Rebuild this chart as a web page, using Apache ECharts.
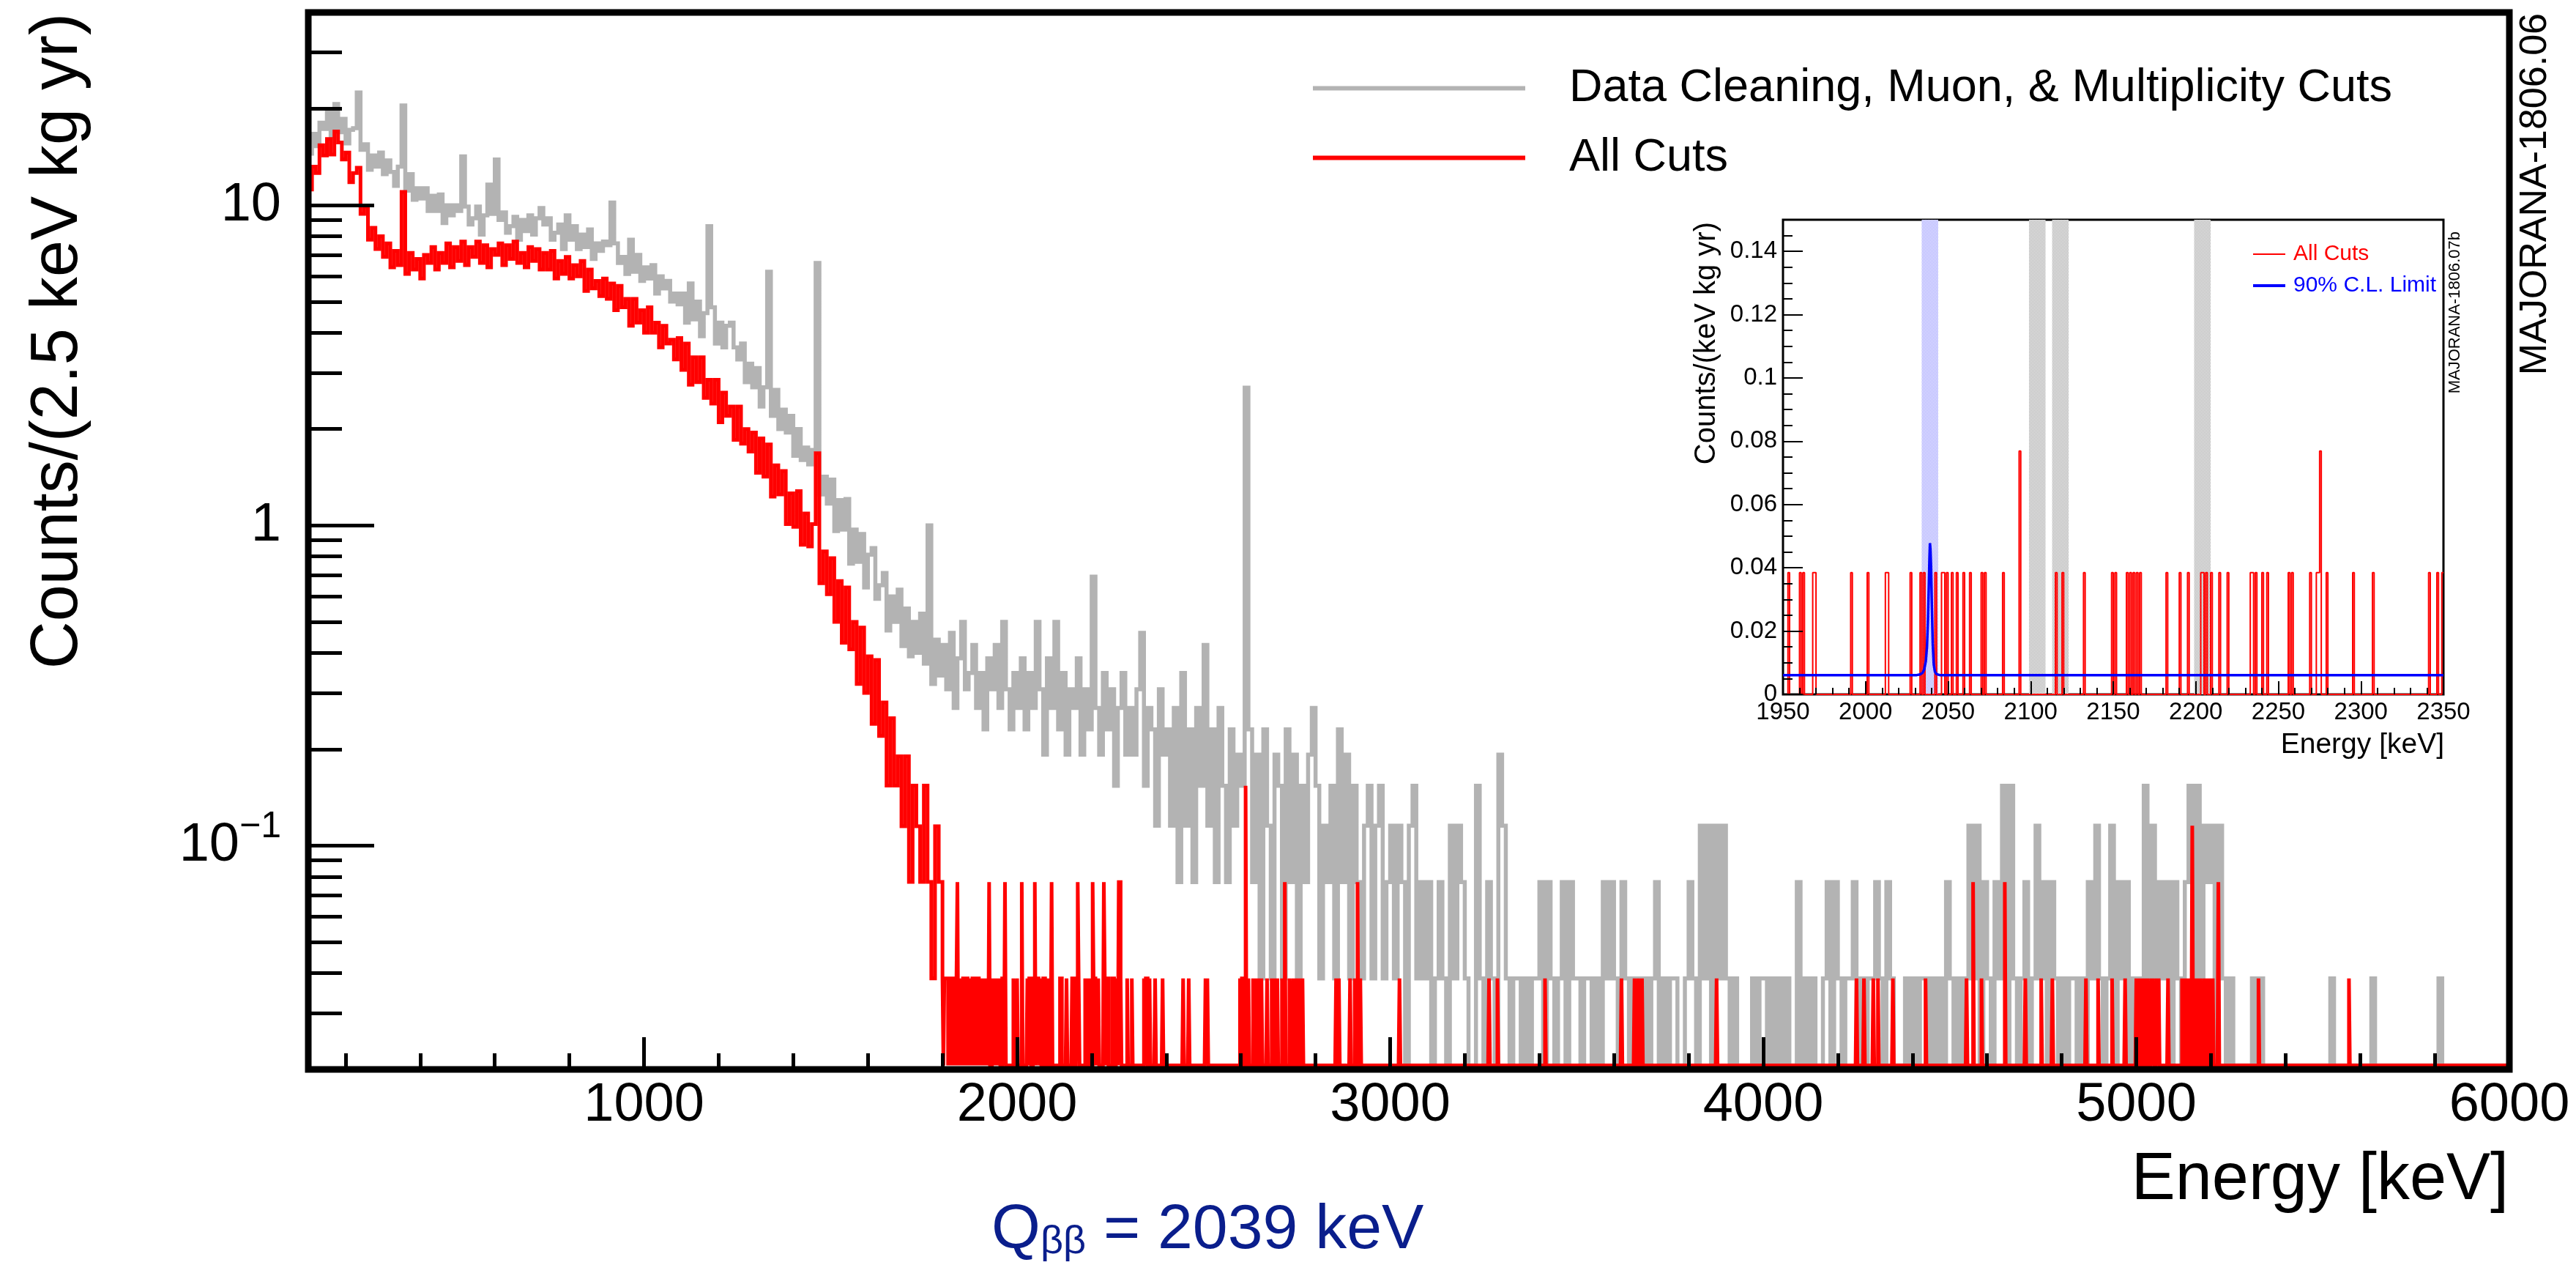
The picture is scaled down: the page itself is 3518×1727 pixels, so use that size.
<!DOCTYPE html>
<html>
<head>
<meta charset="utf-8">
<script src="https://cdn.jsdelivr.net/npm/echarts@6/dist/echarts.min.js"></script>
<style>
html,body{margin:0;padding:0;background:#fff;}
#chart{width:3518px;height:1727px;}
</style>
</head>
<body>
<div id="chart"></div>
<script>
// ---------------- DATA ----------------
const EXPOSURE = 26;            // kg yr : 1 count per bin -> 1/26
const X_MIN = 100, X_MAX = 6000;
const Y_MIN = 0.02, Y_MAX = 40;
const BIN = 10;                 // keV per drawn step (coarse arrays)
const FINE_BIN = 2.5;           // keV, native bin of the spectrum (event lists)
const LO_START = 100;           // first step of the rate arrays (counts/(2.5 keV kg yr))
const HI_START = 1800;          // first step of the count arrays / event lists

const GRAY_NAME = 'Data Cleaning, Muon, & Multiplicity Cuts';
const RED_NAME = 'All Cuts';
const LIMIT_NAME = '90% C.L. Limit';

// 100 - 1790 keV, counts/(2.5 keV kg yr), one line = 100 keV
const grayLow = [
  14.5, 16.7, 15.3, 18.1, 17.3, 19.8, 16.4, 20.7, 16.9, 18.6,
  15.6, 17.2, 17.4, 22.5, 14.9, 15.5, 12.9, 14.3, 13.2, 14.6,
  12.5, 13.8, 12.7, 11.5, 13.2, 20.5, 11.1, 12.5, 10.4, 11.3,
  10.5, 11.3, 9.6, 10.7, 9.6, 10.8, 8.8, 10.0, 9.3, 10.0,
  9.6, 14.2, 9.9, 8.7, 9.1, 9.9, 8.1, 9.3, 11.6, 9.4,
  13.9, 9.0, 9.5, 8.2, 8.6, 9.2, 7.8, 9.0, 8.3, 9.3,
  8.1, 9.1, 9.8, 8.7, 9.1, 7.8, 8.2, 8.7, 7.3, 9.3,
  7.8, 8.6, 7.3, 8.1, 7.4, 8.4, 6.8, 7.6, 7.2, 7.7,
  7.5, 10.2, 7.6, 6.6, 6.9, 6.1, 7.8, 6.2, 7.0, 5.8,
  6.4, 5.9, 6.5, 5.3, 6.0, 5.5, 5.8, 5.0, 5.3, 4.9,
  5.3, 4.3, 5.7, 4.4, 5.0, 3.9, 4.6, 8.6, 4.8, 3.7,
  4.3, 3.6, 4.2, 4.3, 3.6, 3.3, 3.7, 2.8, 3.2, 2.7,
  3.1, 2.35, 2.7, 6.2, 2.2, 2.65, 2.0, 2.3, 1.95, 2.2,
  1.65, 2.0, 1.6, 1.75, 1.55, 1.72, 6.6, 1.25, 1.42, 1.17,
  1.39, 0.96, 1.2, 0.97, 1.21, 0.76, 0.97, 0.77, 0.94, 0.64,
  0.81, 0.85, 0.59, 0.65, 0.71, 0.47, 0.6, 0.5, 0.63, 0.42,
  0.55, 0.39, 0.5, 0.4, 0.53, 0.37, 1.0, 0.32, 0.44, 0.34
];
const redLow = [
  11.2, 13.2, 12.6, 15.4, 14.3, 16.1, 14.4, 17.0, 15.7, 13.9,
  14.6, 11.8, 12.6, 13.1, 9.4, 9.9, 7.8, 8.5, 7.3, 8.0,
  6.9, 7.6, 6.4, 7.2, 6.5, 11.0, 6.1, 7.1, 6.3, 6.8,
  5.9, 7.0, 6.6, 7.4, 6.3, 7.1, 6.6, 7.6, 6.4, 7.4,
  6.7, 7.7, 6.5, 7.4, 6.9, 7.7, 6.6, 7.5, 6.4, 7.3,
  7.0, 7.6, 6.5, 7.5, 6.8, 7.7, 6.6, 7.1, 6.4, 7.4,
  6.7, 7.3, 6.3, 7.1, 6.3, 7.2, 5.9, 6.7, 6.1, 6.9,
  5.9, 6.5, 6.0, 6.7, 5.4, 6.3, 5.5, 5.8, 5.2, 5.9,
  5.1, 5.7, 4.7, 5.6, 4.8, 5.1, 4.2, 5.1, 4.3, 4.7,
  4.0, 4.8, 4.0, 4.3, 3.6, 4.2, 3.7, 3.8, 3.3, 3.85,
  3.06, 3.7, 2.75, 3.35, 2.8, 3.35, 2.5, 2.85, 2.4, 2.85,
  2.1, 2.6, 2.2, 2.35, 1.85, 2.35, 1.8, 2.0, 1.7, 1.95,
  1.46, 1.87, 1.42, 1.79, 1.23, 1.54, 1.25, 1.48, 1.01, 1.26,
  0.99, 1.28, 0.87, 1.09, 0.86, 1.01, 1.68, 0.66, 0.83, 0.61,
  0.79, 0.5, 0.67, 0.43, 0.64, 0.41, 0.5, 0.32, 0.48, 0.3,
  0.39, 0.24, 0.38, 0.22, 0.28, 0.154, 0.25, 0.154, 0.19, 0.115,
  0.19, 0.077, 0.154, 0.115, 0.077, 0.154, 0.077, 0.0385, 0.115, 0.077
];

// "Data Cleaning, Muon, & Multiplicity Cuts": 1800 - 5990 keV, counts per 2.5 keV bin (one line = 100 keV)
const grayHiCounts = [
  11, 8, 12, 7, 10, 13, 8, 9, 11, 7,
  9, 6, 10, 8, 11, 7, 13, 8, 6, 9,
  7, 10, 6, 9, 7, 13, 8, 5, 10, 7,
  13, 6, 9, 5, 8, 7, 10, 5, 8, 6,
  18, 7, 5, 9, 6, 8, 4, 7, 9, 5,
  7, 5, 8, 12, 4, 7, 6, 3, 8, 5,
  6, 3, 7, 2, 9, 3, 6, 2, 7, 4,
  11, 3, 6, 2, 7, 4, 2, 6, 3, 5,
  4, 70, 6, 2, 5, 1, 6, 3, 1, 5,
  4, 1, 6, 2, 5, 1, 4, 2, 5, 7,
  4, 1, 3, 2, 4, 1, 6, 2, 5, 1,
  4, 2, 1, 3, 4, 1, 3, 4, 1, 2,
  3, 1, 3, 2, 0, 3, 4, 1, 2, 1,
  2, 0, 1, 2, 1, 0, 3, 1, 3, 2,
  1, 0, 0, 4, 1, 0, 2, 1, 0, 5,
  3, 1, 0, 1, 1, 0, 1, 0, 1, 1,
  2, 0, 2, 1, 0, 1, 2, 0, 2, 1,
  1, 0, 1, 1, 0, 1, 0, 2, 1, 2,
  1, 0, 2, 1, 0, 1, 1, 0, 1, 0,
  1, 2, 0, 1, 0, 1, 1, 0, 0, 1,
  2, 1, 0, 3, 1, 3, 0, 3, 1, 3,
  1, 0, 1, 0, 0, 0, 0, 1, 0, 1,
  1, 0, 1, 0, 1, 0, 1, 0, 0, 2,
  0, 1, 0, 1, 0, 0, 1, 2, 0, 2,
  1, 0, 1, 1, 2, 0, 1, 0, 1, 1,
  2, 1, 0, 2, 1, 0, 0, 0, 1, 0,
  1, 0, 1, 1, 0, 1, 0, 1, 0, 2,
  1, 0, 1, 0, 1, 3, 1, 3, 0, 2,
  1, 0, 2, 1, 4, 0, 4, 1, 0, 1,
  2, 0, 1, 3, 1, 2, 0, 2, 1, 0,
  1, 0, 1, 1, 0, 1, 0, 2, 1, 3,
  1, 0, 1, 3, 0, 2, 1, 2, 0, 1,
  1, 0, 4, 1, 3, 0, 2, 1, 2, 0,
  2, 1, 0, 2, 4, 1, 4, 0, 3, 2,
  3, 0, 3, 1, 0, 1, 0, 0, 0, 0,
  0, 1, 0, 1, 0, 0, 0, 0, 0, 0,
  0, 0, 0, 0, 0, 0, 0, 0, 0, 0,
  0, 0, 1, 0, 0, 0, 0, 0, 0, 0,
  0, 0, 0, 1, 0, 0, 0, 0, 0, 0,
  0, 0, 0, 0, 0, 0, 0, 0, 0, 0,
  0, 1, 0, 0, 0, 0, 0, 0, 0, 0,
  0, 0, 0, 0, 0, 0, 0, 0, 0, 0
];

// inset: events of "All Cuts" in 1 keV bins [bin start keV, counts] (1950 - 2350 keV)
const insetEvents = [
  [1953,1],[1960,1],[1962,1],[1968,1],[1969,1],[1991,1],[2001,1],[2012,1],[2013,1],[2027,1],
  [2033,1],[2035,1],[2042,1],[2046,1],[2047,1],[2049,1],[2052,1],[2055,1],[2059,1],[2063,1],
  [2070,1],[2072,1],[2083,1],[2093,2],[2115,1],[2119,1],[2132,1],[2149,1],[2151,1],[2158,1],
  [2160,1],[2162,1],[2164,1],[2166,1],[2182,1],[2190,1],[2195,1],[2203,1],[2204,1],[2206,1],
  [2209,1],[2214,1],[2219,1],[2233,1],[2234,1],[2236,1],[2240,1],[2243,1],[2256,1],[2258,1],
  [2269,1],[2273,1],[2274,1],[2275,2],[2279,1],[2295,1],[2307,1],[2341,1],[2346,1],[2349,1]
];
// other "All Cuts" events above 1800 keV (energies in keV, one count each)
const redEventsOutsideInset = [
  1801, 1805, 1808, 1812, 1813, 1818, 1822, 1826, 1829, 1834, 1838, 1841, 1842, 1846, 1851,
  1855, 1858, 1863, 1867, 1871, 1876, 1881, 1884, 1889, 1893, 1897, 1902, 1906, 1911, 1916,
  1921, 1926, 1927, 1933, 1938, 1944, 1948,
  2356, 2371, 2392, 2447, 2462, 2505, 2511,
  2598, 2603, 2607, 2614.5, 2614.5, 2614.5, 2614.5, 2621, 2633, 2641, 2648, 2655, 2672, 2683,
  2690, 2699, 2712, 2718, 2719, 2731, 2742, 2748, 2757, 2766,
  2856, 2864, 2893, 2905, 2914, 2914.5, 2921, 3026, 3266, 3288, 3415, 3621, 3656, 3665, 3675, 3876,
  4251, 4270, 4295, 4309, 4349, 4437, 4547, 4563, 4563.5, 4585, 4648, 4648.5, 4704, 4745, 4776,
  4866, 4898, 4937, 4970,
  5001, 5008, 5016, 5023, 5031, 5040, 5047, 5055, 5062, 5085, 5124, 5131, 5139, 5146,
  5151, 5151.5, 5152, 5158, 5166, 5174, 5183, 5191, 5199, 5207, 5221, 5221.5, 5328, 5570
];

// axis ticks (main)
const xMajorTicks = [1000, 2000, 3000, 4000, 5000, 6000];
const xMinorTicks = [200, 400, 600, 800, 1200, 1400, 1600, 1800, 2200, 2400, 2600, 2800,
  3200, 3400, 3600, 3800, 4200, 4400, 4600, 4800, 5200, 5400, 5600, 5800];
const yMajorTicks = [0.1, 1, 10];
const yMinorTicks = [0.03, 0.04, 0.05, 0.06, 0.07, 0.08, 0.09,
  0.2, 0.3, 0.4, 0.5, 0.6, 0.7, 0.8, 0.9, 2, 3, 4, 5, 6, 7, 8, 9, 20, 30];

const INSET_X_MIN = 1950, INSET_X_MAX = 2350;
const insetYMajor = [0, 0.02, 0.04, 0.06, 0.08, 0.1, 0.12, 0.14];
const insetYMinor = [0.005, 0.01, 0.015, 0.025, 0.03, 0.035, 0.045, 0.05, 0.055, 0.065, 0.07, 0.075,
  0.085, 0.09, 0.095, 0.105, 0.11, 0.115, 0.125, 0.13, 0.135, 0.145];
// 90% C.L. limit curve
const limitE = [1950, 2031, 2033, 2034.5, 2035.5, 2036.5, 2037.2, 2037.8, 2038.3, 2038.7, 2039.0,
  2039.3, 2039.7, 2040.2, 2040.7, 2041.3, 2042.0, 2043, 2045, 2350];
const limitV = [0.0061, 0.0061, 0.0063, 0.0068, 0.0078, 0.0105, 0.015, 0.0235, 0.034, 0.043, 0.0478,
  0.046, 0.040, 0.027, 0.016, 0.0095, 0.0072, 0.0064, 0.0061, 0.0061];
const roiBand = [2034, 2044];
const excludedBands = [[2099, 2109], [2113, 2123], [2199, 2209]];

// ---------------- STYLE ----------------
const FONT = '"Liberation Sans", Arial, Helvetica, sans-serif';
const GRAY = '#b3b3b3', RED = '#ff0000', BLUE = '#0000ff', QBB_COLOR = '#0a1e8c';

// ---------------- BUILD ----------------
const FLOOR = Y_MIN * 1.03; // empty bins are drawn on the lower frame, like ROOT
const rate = c => Math.max(c / EXPOSURE, FLOOR);

// gray: coarse rate array + coarse count array
const grayData = [];
grayLow.forEach((v, i) => grayData.push([LO_START + i * BIN, Math.max(v, FLOOR)]));
grayHiCounts.forEach((c, i) => grayData.push([HI_START + i * BIN, rate(c)]));
grayData.push([X_MAX, grayData[grayData.length - 1][1]]);

// red: coarse rate array below 1800 keV, then events histogrammed in 2.5 keV bins
const nFine = Math.round((X_MAX - HI_START) / FINE_BIN);
const redFine = new Array(nFine).fill(0);
const addEvent = (e, c) => {
  const k = Math.floor((e - HI_START) / FINE_BIN);
  if (k >= 0 && k < nFine) redFine[k] += c;
};
redEventsOutsideInset.forEach(e => addEvent(e, 1));
insetEvents.forEach(([e, c]) => addEvent(e + 0.5, c));
const redData = [];
redLow.forEach((v, i) => redData.push([LO_START + i * BIN, Math.max(v, FLOOR)]));
redFine.forEach((c, i) => redData.push([HI_START + i * FINE_BIN, rate(c)]));
redData.push([X_MAX, redData[redData.length - 1][1]]);

// inset histogram (1 keV bins)
const insetCounts = new Array(INSET_X_MAX - INSET_X_MIN).fill(0);
insetEvents.forEach(([e, c]) => { insetCounts[e - INSET_X_MIN] += c; });
const insetData = insetCounts.map((c, i) => [INSET_X_MIN + i, c / EXPOSURE]);
insetData.push([INSET_X_MAX, insetData[insetData.length - 1][1]]);

const limitData = limitE.map((e, i) => [e, limitV[i]]);
const bandData = [[roiBand[0], roiBand[1], 1]].concat(excludedBands.map(b => [b[0], b[1], 0]));

function checker(c1, c2) {
  const cv = document.createElement('canvas');
  cv.width = 2; cv.height = 2;
  const g = cv.getContext('2d');
  g.fillStyle = c2; g.fillRect(0, 0, 2, 2);
  g.fillStyle = c1; g.fillRect(0, 0, 1, 1); g.fillRect(1, 1, 1, 1);
  return { type: 'pattern', image: cv, repeat: 'repeat' };
}
const grayPattern = checker('#a8a8a8', '#fafafa');
const bluePattern = checker('#9a9aff', '#ffffff');

const chart = echarts.init(document.getElementById('chart'), null, { renderer: 'canvas' });

function yMainLabel(v) {
  const l = Math.log10(v), r = Math.round(l);
  if (Math.abs(l - r) > 1e-6) return '';
  if (r === -1) return '{b|10}{s|\u22121}';
  if (r === 0) return '{n|1}';
  if (r === 1) return '{n|10}';
  return '';
}
const plainNumber = v => String(Math.round(v));

const option = {
  animation: false,
  backgroundColor: '#ffffff',
  textStyle: { fontFamily: FONT },
  grid: [
    { left: 421, top: 17, width: 3006, height: 1443, show: true, borderColor: '#000', borderWidth: 9,
      backgroundColor: 'transparent', z: 3, containLabel: false, outerBoundsMode: 'none' },
    { left: 2435, top: 300, width: 902, height: 648, show: true, borderColor: '#000', borderWidth: 3,
      backgroundColor: '#ffffff', z: 3, containLabel: false, outerBoundsMode: 'none' }
  ],
  xAxis: [
    { gridIndex: 0, type: 'value', min: X_MIN, max: X_MAX, position: 'bottom', z: 3,
      axisLine: { show: false, onZero: false }, splitLine: { show: false },
      axisTick: { show: true, inside: true, length: 44, lineStyle: { color: '#000', width: 5 }, customValues: xMajorTicks },
      axisLabel: { show: true, customValues: xMajorTicks, formatter: plainNumber, fontSize: 74, lineHeight: 74,
        margin: 13, color: '#000', fontFamily: FONT } },
    { gridIndex: 0, type: 'value', min: X_MIN, max: X_MAX, position: 'bottom', z: 3,
      axisLine: { show: false, onZero: false }, splitLine: { show: false },
      axisTick: { show: true, inside: true, length: 22, lineStyle: { color: '#000', width: 5 }, customValues: xMinorTicks },
      axisLabel: { show: false } },
    { gridIndex: 1, type: 'value', min: INSET_X_MIN, max: INSET_X_MAX, interval: 50, position: 'bottom', z: 7,
      axisLine: { show: false, onZero: false }, splitLine: { show: false },
      axisTick: { show: true, inside: true, length: 18, lineStyle: { color: '#000', width: 2 } },
      minorTick: { show: true, splitNumber: 5, length: 9, lineStyle: { color: '#000', width: 2 } },
      axisLabel: { show: true, formatter: plainNumber, fontSize: 33, lineHeight: 33, margin: 8, color: '#000',
        fontFamily: FONT, showMinLabel: true, showMaxLabel: true } }
  ],
  yAxis: [
    { gridIndex: 0, type: 'log', logBase: 10, min: Y_MIN, max: Y_MAX, position: 'left', z: 3,
      axisLine: { show: false, onZero: false }, splitLine: { show: false },
      axisTick: { show: true, inside: true, length: 90, lineStyle: { color: '#000', width: 5 }, customValues: yMajorTicks },
      axisLabel: { show: true, customValues: yMajorTicks, margin: 37, color: '#000', fontFamily: FONT,
        formatter: yMainLabel,
        rich: {
          n: { fontSize: 74, lineHeight: 100, fontFamily: FONT, color: '#000' },
          b: { fontSize: 74, lineHeight: 100, fontFamily: FONT, color: '#000' },
          s: { fontSize: 50, lineHeight: 50, verticalAlign: 'top', fontFamily: FONT, color: '#000' }
        } } },
    { gridIndex: 0, type: 'log', logBase: 10, min: Y_MIN, max: Y_MAX, position: 'left', z: 3,
      axisLine: { show: false, onZero: false }, splitLine: { show: false },
      axisTick: { show: true, inside: true, length: 46, lineStyle: { color: '#000', width: 5 }, customValues: yMinorTicks },
      axisLabel: { show: false } },
    { gridIndex: 1, type: 'value', min: 0, max: 0.15, position: 'left', z: 7,
      axisLine: { show: false, onZero: false }, splitLine: { show: false },
      axisTick: { show: true, inside: true, length: 27, lineStyle: { color: '#000', width: 2 }, customValues: insetYMajor },
      axisLabel: { show: true, customValues: insetYMajor, fontSize: 33, margin: 8, color: '#000', fontFamily: FONT } },
    { gridIndex: 1, type: 'value', min: 0, max: 0.15, position: 'left', z: 7,
      axisLine: { show: false, onZero: false }, splitLine: { show: false },
      axisTick: { show: true, inside: true, length: 13, lineStyle: { color: '#000', width: 2 }, customValues: insetYMinor },
      axisLabel: { show: false } }
  ],
  legend: [
    { orient: 'vertical', left: 1790, top: 89, padding: 0, itemGap: 32, itemWidth: 290, itemHeight: 63,
      data: [GRAY_NAME, RED_NAME], selectedMode: false,
      itemStyle: { opacity: 0, borderWidth: 0 },
      lineStyle: { width: 6 },
      textStyle: { fontSize: 63, lineHeight: 63, color: '#000', fontFamily: FONT, padding: [0, 0, 0, 55] } },
    { orient: 'vertical', left: 3075, top: 332, padding: 0, itemGap: 13, itemWidth: 44, itemHeight: 30,
      selectedMode: false,
      itemStyle: { opacity: 0, borderWidth: 0 },
      data: [
        { name: RED_NAME, lineStyle: { width: 2 }, textStyle: { color: RED } },
        { name: LIMIT_NAME, lineStyle: { width: 4 }, textStyle: { color: BLUE } }
      ],
      textStyle: { fontSize: 30, lineHeight: 30, fontFamily: FONT, padding: [0, 0, 0, 6] } }
  ],
  series: [
    { name: GRAY_NAME, type: 'line', xAxisIndex: 0, yAxisIndex: 0, step: 'end', symbol: 'none',
      data: grayData, z: 2, silent: true, clip: true,
      itemStyle: { color: GRAY }, lineStyle: { color: GRAY, width: 5.5, join: 'miter' } },
    { name: RED_NAME, type: 'line', xAxisIndex: 0, yAxisIndex: 0, step: 'end', symbol: 'none',
      data: redData, z: 2, silent: true, clip: true,
      itemStyle: { color: RED }, lineStyle: { color: RED, width: 5, join: 'miter' } },
    { name: 'bands', type: 'custom', xAxisIndex: 2, yAxisIndex: 2, z: 4, silent: true,
      encode: { x: [0, 1] }, data: bandData,
      renderItem: function (params, api) {
        const p0 = api.coord([api.value(0), 0.15]);
        const p1 = api.coord([api.value(1), 0]);
        return { type: 'rect', shape: { x: p0[0], y: p0[1], width: p1[0] - p0[0], height: p1[1] - p0[1] },
          style: { fill: api.value(2) === 1 ? bluePattern : grayPattern, stroke: null } };
      } },
    { name: RED_NAME, type: 'line', xAxisIndex: 2, yAxisIndex: 2, step: 'end', symbol: 'none',
      data: insetData, z: 5, silent: true, clip: true,
      itemStyle: { color: RED }, lineStyle: { color: RED, width: 2 } },
    { name: LIMIT_NAME, type: 'line', xAxisIndex: 2, yAxisIndex: 2, symbol: 'none',
      data: limitData, z: 6, silent: true, clip: true,
      itemStyle: { color: BLUE }, lineStyle: { color: BLUE, width: 3.5 } }
  ],
  graphic: { elements: [
    { type: 'text', x: 80, y: 18, rotation: Math.PI / 2, z: 10,
      style: { text: 'Counts/(2.5 keV kg yr)', fontSize: 90, fontFamily: FONT, fill: '#000',
        align: 'right', verticalAlign: 'middle' } },
    { type: 'text', x: 3426, y: 1612, z: 10,
      style: { text: 'Energy [keV]', fontSize: 90, fontFamily: FONT, fill: '#000',
        align: 'right', verticalAlign: 'middle' } },
    { type: 'text', x: 1354, y: 1680, z: 10,
      style: { text: '{q|Q}{s|\u03b2\u03b2}{q| = 2039 keV}', fontFamily: FONT, fill: QBB_COLOR,
        align: 'left', verticalAlign: 'middle',
        rich: {
          q: { fontSize: 86, lineHeight: 86, fontFamily: FONT, fill: QBB_COLOR, color: QBB_COLOR, verticalAlign: 'bottom' },
          s: { fontSize: 54, lineHeight: 54, fontFamily: FONT, fill: QBB_COLOR, color: QBB_COLOR, verticalAlign: 'bottom' }
        } } },
    { type: 'text', x: 3463, y: 18, rotation: Math.PI / 2, z: 10,
      style: { text: 'MAJORANA-1806.06', fontSize: 52, fontFamily: FONT, fill: '#000',
        align: 'right', verticalAlign: 'middle' } },
    { type: 'text', x: 2331, y: 303, rotation: Math.PI / 2, z: 10,
      style: { text: 'Counts/(keV kg yr)', fontSize: 40, fontFamily: FONT, fill: '#000',
        align: 'right', verticalAlign: 'middle' } },
    { type: 'text', x: 3338, y: 1017, z: 10,
      style: { text: 'Energy [keV]', fontSize: 39, fontFamily: FONT, fill: '#000',
        align: 'right', verticalAlign: 'middle' } },
    { type: 'text', x: 3353, y: 316, rotation: Math.PI / 2, z: 10,
      style: { text: 'MAJORANA-1806.07b', fontSize: 22, fontFamily: FONT, fill: '#000',
        align: 'right', verticalAlign: 'middle' } }
  ] }
};
chart.setOption(option);
</script>
</body>
</html>
